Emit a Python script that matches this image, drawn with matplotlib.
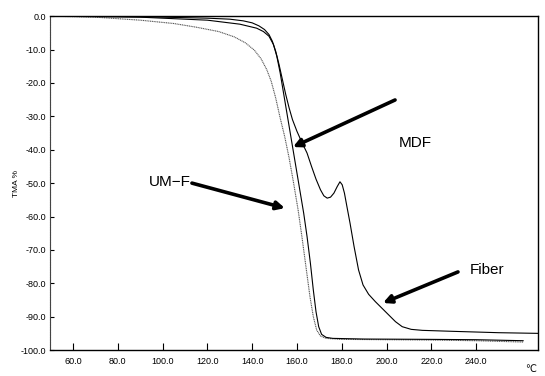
import matplotlib.pyplot as plt

plt.rcParams['font.family'] = ['Liberation Sans', 'DejaVu Sans']

# UM-F curve (temperature degC, TMA %)
umf_t = [50, 70, 90, 105, 115, 125, 132, 137, 141, 144, 146.5, 148.5, 150.5, 152.5, 154.5, 156.5,
         158.5, 160.5, 162.2, 164, 165.8, 167.3, 168.8, 170.5, 173, 180, 200, 220, 240, 261]
umf_v = [0, -0.3, -1.2, -2.2, -3.3, -4.6, -6.2, -8.0, -10.2, -12.8, -16, -19.5, -24.5, -30.5, -36,
         -42.5, -50, -58, -66, -75, -84, -90, -94, -95.8, -96.5, -96.8, -96.9, -97, -97.2, -97.6]

# MDF curve
mdf_t = [50, 90, 120, 134.5, 142, 145, 147.5, 149.5, 151, 152.5, 154, 155.5, 157, 158.5, 160,
         161.5, 163, 164.5, 166, 167.3, 168.5, 169.7, 171, 173, 176, 190, 220, 240, 261]
mdf_v = [0, -0.3, -1.2, -2.4, -3.6, -4.6, -6, -8.5, -12, -17, -23, -29, -35, -41, -47,
         -53, -59, -66, -74, -82, -88.5, -93, -95.3, -96.2, -96.5, -96.7, -96.8, -96.9, -97.2]

# Fiber curve
fib_t = [50, 80, 100, 120, 130, 136, 140, 143, 145.5, 147.5, 149, 150.5, 152, 153.5, 155, 156.5,
         158, 160, 162, 164.5, 166.5, 168.5, 170.5, 172, 173.5, 175, 176.5, 178, 179.2, 180.2,
         181.2, 182.3, 183.7, 185.5, 187.5, 189.5, 192, 195, 198, 201, 204, 207, 211, 216, 230,
         250, 267.6]
fib_v = [0, -0.1, -0.3, -0.6, -0.9, -1.4, -2.0, -2.9, -4.0, -5.5, -7.5, -10.5, -14.5, -19, -23.5,
         -27.5, -31, -34.5, -37.5, -41, -45, -48.8, -52, -53.8, -54.5, -54.2, -53, -51, -49.6,
         -50.5, -53, -57, -62, -69, -76, -80.5, -83.3, -85.5, -87.5, -89.5, -91.5, -93, -93.8,
         -94.1, -94.4, -94.8, -95]

xticks = [60, 80, 100, 120, 140, 160, 180, 200, 220, 240]
yticks = [0, -10, -20, -30, -40, -50, -60, -70, -80, -90, -100]

fig = plt.figure(figsize=(5.45, 3.76), dpi=100)
ax = fig.add_axes([0.0917, 0.069, 0.8953, 0.888])

ax.plot(umf_t, umf_v, color='#555555', lw=0.8, ls=(0, (1, 0.6)))
ax.plot(mdf_t, mdf_v, color='black', lw=0.8)
ax.plot(fib_t, fib_v, color='black', lw=0.8)

ax.set_xlim(49.7, 267.6)
ax.set_ylim(-100, 0)
ax.set_xticks(xticks)
ax.set_xticklabels(['%.1f' % t for t in xticks], fontsize=6.5)
ax.set_yticks(yticks)
ax.set_yticklabels(['%.1f' % v for v in yticks], fontsize=6.5)
ax.tick_params(axis='x', direction='in', length=5, width=0.8, pad=5)
ax.tick_params(axis='y', direction='in', length=3, width=0.8, pad=3)
ax.spines['left'].set_linestyle((0, (1, 0.5)))
ax.spines['left'].set_color('#444444')
for s in ['top', 'bottom', 'right']:
    ax.spines[s].set_linewidth(1.0)

ax.set_ylabel('TMA %', fontsize=6)
ax.yaxis.set_label_coords(-0.061, 0.5)
fig.text(0.973, 0.005, '\u2103', fontsize=7, ha='center', va='bottom')

arrow = dict(arrowstyle='-|>', lw=2.6, mutation_scale=12, color='black', shrinkA=0, shrinkB=0)
ax.annotate('', xy=(158.2, -39.2), xytext=(203.8, -25.1), arrowprops=arrow)
ax.text(205.5, -38, 'MDF', fontsize=11, ha='left', va='center')
ax.annotate('', xy=(154.6, -57.5), xytext=(113.1, -50), arrowprops=arrow)
ax.text(112.6, -49.7, 'UM\u2212F', fontsize=11, ha='right', va='center')
ax.annotate('', xy=(198.4, -85.9), xytext=(231.9, -76.6), arrowprops=arrow)
ax.text(237, -76, 'Fiber', fontsize=11, ha='left', va='center')

fig.savefig('out.png', dpi=100)
